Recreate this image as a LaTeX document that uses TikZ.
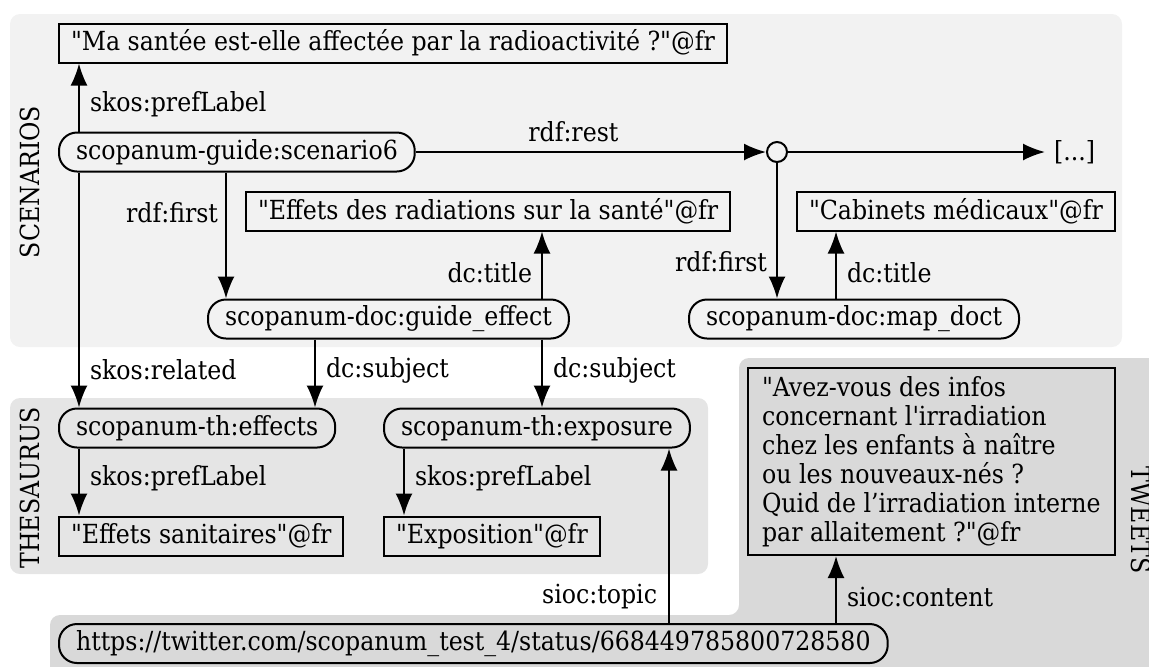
\documentclass[tikz,border=0pt]{standalone}
\usepackage{fontspec}
\setmainfont{DejaVu Serif Condensed}[Ligatures=TeXOff]
\usetikzlibrary{arrows.meta}
\definecolor{scenbg}{HTML}{F2F2F2}
\definecolor{thesbg}{HTML}{E5E5E5}
\definecolor{tweetbg}{HTML}{D9D9D9}

\begin{document}
\begin{tikzpicture}[x=0.5pt,y=-0.5pt,line width=1pt,
  font=\fontsize{13.15}{14.5}\selectfont,
  lit/.style={draw,inner xsep=6pt,inner ysep=0pt,minimum height=19.5pt,anchor=west},
  res/.style={lit,rounded corners=9pt,inner xsep=8.5pt},
  lbl/.style={inner sep=0pt},
  arr/.style={-{Latex[length=11pt,width=8.5pt]}},
  zone/.style={rounded corners=5pt}]
  \useasboundingbox (0,0) rectangle (1149,666);

  % zones
  \fill[scenbg,zone] (10,14) rectangle (1122,347);
  \fill[thesbg,zone] (10,398) rectangle (708,574);
  \fill[tweetbg,zone] (1180,358) -- (739,358) -- (739,615) -- (50,615)
    -- (50,700) -- (1180,700) -- cycle;
  \node[rotate=90] (zscen) at (30,182) {SCENARIOS};
  \node[rotate=90] (zthes) at (30,488) {THESAURUS};
  \node[rotate=-90] (ztweet) at (1141,520) {TWEETS};

  % scenarios
  \node[lit] (santee) at (58,43) {"Ma santée est-elle affectée par la radioactivité ?"@fr};
  \node[res] (scen) at (58,152) {scopanum-guide:scenario6};
  \node[draw,circle,inner sep=0pt,minimum size=10pt] (list) at (777,152) {};
  \node[anchor=west,inner xsep=4pt,inner ysep=0pt] (rest) at (1045,152) {[...]};
  \node[lit] (radtitle) at (245,211) {"Effets des radiations sur la santé"@fr};
  \node[lit] (cabtitle) at (796,211) {"Cabinets médicaux"@fr};
  \node[res] (guide) at (207,319) {scopanum-doc:guide\_effect};
  \node[res] (mapdoct) at (688,319) {scopanum-doc:map\_doct};

  % thesaurus
  \node[res] (effects) at (58,428) {scopanum-th:effects};
  \node[res] (exposure) at (383,428) {scopanum-th:exposure};
  \node[lit] (effname) at (58,536) {"Effets sanitaires"@fr};
  \node[lit] (expname) at (383,536) {"Exposition"@fr};

  % tweets
  \node[lit,align=left,inner xsep=7pt,minimum height=93.5pt] (content) at (747,461.5)
    {"Avez-vous des infos\\concernant l'irradiation\\chez les enfants à naître\\
     ou les nouveaux-nés ?\\Quid de l’irradiation interne\\par allaitement ?"@fr};
  \node[res] (tweet) at (58,643.5) {https://twitter.com/scopanum\_test\_4/status/668449785800728580};

  % columns of the vertical links
  \coordinate (xa) at (79,0);
  \coordinate (xb) at (226,0);
  \coordinate (xc) at (315,0);
  \coordinate (xd) at (404,0);
  \coordinate (xe) at (542,0);
  \coordinate (xf) at (669,0);
  \coordinate (xg) at (836,0);

  % links
  \draw[arr] (scen.north -| xa) -- node[lbl,right=5pt,pos=.4]{skos:prefLabel} (santee.south -| xa);
  \draw[arr] (scen.east) -- node[lbl,above=4.5pt,pos=.45]{rdf:rest} (list.west);
  \draw[arr] (list.east) -- (rest.west);
  \draw[arr] (scen.south -| xb) -- node[lbl,left=3.5pt,pos=.32]{rdf:first} (guide.north -| xb);
  \draw[arr] (guide.north -| xe) -- node[lbl,left=4.5pt,pos=.39]{dc:title} (radtitle.south -| xe);
  \draw[arr] (list.south) -- node[lbl,left=4.5pt,pos=.73]{rdf:first} (mapdoct.north -| list);
  \draw[arr] (mapdoct.north -| xg) -- node[lbl,right=5pt,pos=.38]{dc:title} (cabtitle.south -| xg);
  \draw[arr] (scen.south -| xa) -- node[lbl,right=5pt,pos=.84]{skos:related} (effects.north -| xa);
  \draw[arr] (guide.south -| xc) -- node[lbl,right=5pt,pos=.45]{dc:subject} (effects.north -| xc);
  \draw[arr] (guide.south -| xe) -- node[lbl,right=5pt,pos=.45]{dc:subject} (exposure.north -| xe);
  \draw[arr] (effects.south -| xa) -- node[lbl,right=5pt,pos=.45]{skos:prefLabel} (effname.north -| xa);
  \draw[arr] (exposure.south -| xd) -- node[lbl,right=5pt,pos=.45]{skos:prefLabel} (expname.north -| xd);
  \draw[arr] (tweet.north -| xf) -- node[lbl,left=5.5pt,pos=.15]{sioc:topic} (exposure.south -| xf);
  \draw[arr] (tweet.north -| xg) -- node[lbl,right=5pt,pos=.39]{sioc:content} (content.south -| xg);
\end{tikzpicture}
\end{document}
